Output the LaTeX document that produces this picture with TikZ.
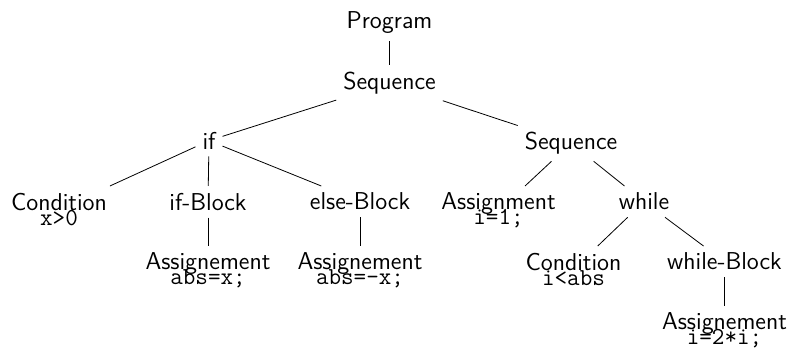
\documentclass[tikz,border=0pt]{standalone}
\usepackage{fontspec}

% label on top, code line tightly underneath
\newcommand\codestack[2]{\vbox{\baselineskip=7.5pt\lineskiplimit=-\maxdimen
  \halign{\hfil##\hfil\cr #1\cr\texttt{#2}\cr}}}

\tikzset{
  lbl/.style={font=\fontsize{12.2}{14}\selectfont\sffamily, anchor=north},
  edge/.style={line width=0.4pt},
}

\begin{document}
\begin{tikzpicture}[x=0.5pt,y=-0.5pt]
\useasboundingbox (0,0) rectangle (792,351);

% level 0 and 1
\node[lbl] (prog)    at (389.5,5)   {Program};
\node[lbl] (seqA)    at (389.5,65)  {Sequence};
% level 2
\node[lbl] (ifn)     at (209,125)   {if};
\node[lbl] (seqB)    at (571,125)   {Sequence};
% level 3
\node[lbl] (condA)   at (59,186)    {\codestack{Condition}{x>0}};
\node[lbl] (ifblk)   at (208,186)   {if-Block};
\node[lbl] (elseblk) at (360,186)   {else-Block};
\node[lbl] (asgA)    at (498.5,186) {\codestack{Assignment}{i=1;}};
\node[lbl] (whl)     at (644,186)   {while};
% level 4
\node[lbl] (asgB)    at (208,246)   {\codestack{Assignement}{abs=x;}};
\node[lbl] (asgC)    at (360,246)   {\codestack{Assignement}{abs=-x;}};
\node[lbl] (condB)   at (573.5,246) {\codestack{Condition}{i<abs}};
\node[lbl] (whlblk)  at (724.5,246) {while-Block};
% level 5
\node[lbl] (asgD)    at (724.5,306) {\codestack{Assignement}{i=2*i;}};

\draw[edge] (prog) -- (seqA);
\draw[edge] (seqA) -- (ifn);
\draw[edge] (seqA) -- (seqB);
\draw[edge] (ifn) -- (condA);
\draw[edge] (ifn) -- (ifblk);
\draw[edge] (ifn) -- (elseblk);
\draw[edge] (seqB) -- (asgA);
\draw[edge] (seqB) -- (whl);
\draw[edge] (ifblk) -- (asgB);
\draw[edge] (elseblk) -- (asgC);
\draw[edge] (whl) -- (condB);
\draw[edge] (whl) -- (whlblk);
\draw[edge] (whlblk) -- (asgD);
\end{tikzpicture}
\end{document}
